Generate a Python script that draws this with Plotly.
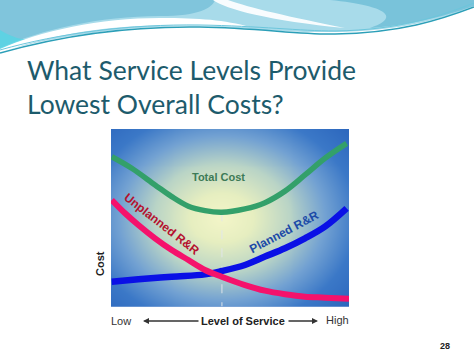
import numpy as np
import plotly.graph_objects as go

W, H = 474, 355

# ---- data (0-100 scale) ----
level_total = [0.3, 8.7, 18.5, 25.5, 32.5, 39.5, 46.5, 56.3, 64.7, 73.1, 81.5, 89.9, 99.0]
cost_total = [84.4, 77.9, 68.5, 61.9, 56.5, 54.0, 53.1, 55.0, 58.5, 65.0, 74.1, 83.5, 91.9]

level_unplanned = [0.3, 5.9, 11.5, 18.5, 25.5, 32.5, 39.5, 46.5, 56.3, 64.7, 73.1, 81.5, 89.9, 100.0]
cost_unplanned = [60.0, 52.5, 45.9, 38.4, 31.8, 26.2, 20.6, 16.8, 12.1, 8.9, 6.9, 5.5, 5.0, 4.3]

level_planned = [0.3, 11.5, 25.5, 39.5, 46.6, 56.3, 64.7, 73.1, 81.5, 89.9, 99.0]
cost_planned = [14.0, 15.3, 16.8, 18.1, 20.0, 23.4, 28.1, 32.8, 38.4, 45.0, 55.3]

optimum_level = 46.6
optimum_cost = 53.1

title_lines = ["What Service Levels Provide", "Lowest Overall Costs?"]
series_labels = ["Total Cost", "Unplanned R&R", "Planned R&R"]


def P(x, y):
    return f"{x / W:.4f},{1 - y / H:.4f}"


fig = go.Figure()

# background glow (decorative)
gx = np.linspace(0, 100, 61)
gy = np.linspace(0, 100, 61)
GX, GY = np.meshgrid(gx, gy)
R = np.sqrt(((GX - 46.5) / 58) ** 2 + ((GY - 50) / 62) ** 2)
fig.add_trace(go.Heatmap(
    x=gx, y=gy, z=R, zmin=0, zmax=1.5, zsmooth="best", showscale=False,
    hoverinfo="skip",
    colorscale=[[0, "#f3f5c8"], [0.15, "#e6eec0"], [0.33, "#b9d4c6"],
                [0.5, "#72a1d2"], [0.65, "#3b78c7"], [0.8, "#2d68be"], [1, "#2458ac"]],
))

fig.add_trace(go.Scatter(x=[optimum_level, optimum_level], y=[optimum_cost, 0], mode="lines",
                         line=dict(color="rgba(225,230,235,0.8)", width=1.2, dash="dash"),
                         hoverinfo="skip", showlegend=False))
fig.add_trace(go.Scatter(x=level_total, y=cost_total, mode="lines", line_shape="spline",
                         line=dict(color="#33a06a", width=5.5), showlegend=False))
fig.add_trace(go.Scatter(x=level_planned, y=cost_planned, mode="lines", line_shape="spline",
                         line=dict(color="#0a10e6", width=6.5), showlegend=False))
fig.add_trace(go.Scatter(x=level_unplanned, y=cost_unplanned, mode="lines", line_shape="spline",
                         line=dict(color="#f5126c", width=6), showlegend=False))

x0, x1 = 111, 349
y0, y1 = 129, 306.5
fig.update_layout(
    width=W, height=H, margin=dict(l=0, r=0, t=0, b=0),
    paper_bgcolor="white", plot_bgcolor="#2d67bd", showlegend=False,
    xaxis=dict(domain=[x0 / W, x1 / W], range=[0, 100], visible=False, fixedrange=True),
    yaxis=dict(domain=[1 - y1 / H, 1 - y0 / H], range=[0, 100], visible=False, fixedrange=True),
)

shapes = []
# header decoration: light base down to the teal line
shapes.append(dict(type="path", xref="paper", yref="paper", line=dict(width=0),
                   fillcolor="#a8dbea",
                   path=f"M {P(0,0)} L {P(474,0)} L {P(474,6)} C {P(440,20)} {P(400,31)} {P(334,32)} "
                        f"C {P(280,33)} {P(240,27)} {P(200,26)} C {P(140,25)} {P(60,34)} {P(0,52)} Z"))
# upper-left darker wave
shapes.append(dict(type="path", xref="paper", yref="paper", line=dict(width=0),
                   fillcolor="#80c5dc",
                   path=f"M {P(0,0)} L {P(215,0)} C {P(212,8)} {P(200,16)} {P(160,16)} "
                        f"C {P(100,16)} {P(40,30)} {P(0,48)} Z"))
shapes.append(dict(type="path", xref="paper", yref="paper", line=dict(width=0),
                   fillcolor="rgba(80,215,230,0.7)",
                   path=f"M {P(0,30)} C {P(10,36)} {P(20,40)} {P(28,39)} C {P(18,42)} {P(8,46)} {P(0,50)} Z"))
# white crescent below the upper-left wave
shapes.append(dict(type="path", xref="paper", yref="paper", line=dict(width=0),
                   fillcolor="white",
                   path=f"M {P(0,49)} C {P(40,31)} {P(100,18)} {P(160,18)} C {P(200,18)} {P(225,20)} {P(250,27)} "
                        f"C {P(220,26)} {P(180,25)} {P(140,26)} C {P(90,28)} {P(40,38)} {P(0,53)} Z"))
# white streak from the top
shapes.append(dict(type="path", xref="paper", yref="paper", line=dict(width=0),
                   fillcolor="rgba(255,255,255,0.92)",
                   path=f"M {P(213,0)} C {P(225,9)} {P(270,21)} {P(345,28)} "
                        f"C {P(290,17)} {P(250,8)} {P(228,0)} Z"))
# darker top-right wave
shapes.append(dict(type="path", xref="paper", yref="paper", line=dict(width=0),
                   fillcolor="#79c3da",
                   path=f"M {P(330,0)} L {P(474,0)} L {P(474,6)} C {P(450,14)} {P(420,24)} {P(370,28)} "
                        f"C {P(400,18)} {P(390,6)} {P(330,0)} Z"))
shapes.append(dict(type="path", xref="paper", yref="paper", line=dict(color="#2c9fb8", width=1.5),
                   path=f"M {P(0,53)} C {P(60,36)} {P(130,26)} {P(200,27)} C {P(260,28)} {P(300,35)} {P(335,34)} "
                        f"C {P(400,33)} {P(440,20)} {P(474,7)}"))
shapes.append(dict(type="path", xref="paper", yref="paper", line=dict(color="#6cc6dc", width=1),
                   path=f"M {P(0,50)} C {P(60,33)} {P(130,24)} {P(200,25)} C {P(260,26)} {P(300,31)} {P(335,31)} "
                        f"C {P(400,30)} {P(440,16)} {P(474,3)}"))
fig.update_layout(shapes=shapes)

ann = []
tfont = dict(family="Lato", size=26.5, color="#1d5b6c")
ann.append(dict(x=25 / W, y=1 - 70 / H, xref="paper", yref="paper", xanchor="left", yanchor="middle",
                text=title_lines[0], showarrow=False, font=tfont))
ann.append(dict(x=25 / W, y=1 - 104 / H, xref="paper", yref="paper", xanchor="left", yanchor="middle",
                text=title_lines[1], showarrow=False, font=tfont))

lab = dict(family="Liberation Sans", size=12)
ann.append(dict(x=45, y=73, xref="x", yref="y", text=f"<b>{series_labels[0]}</b>", showarrow=False,
                xanchor="center", yanchor="middle", font=dict(lab, size=11, color="#3d7a57")))
ann.append(dict(x=21.3, y=46.5, xref="x", yref="y", text=f"<b>{series_labels[1]}</b>", showarrow=False,
                xanchor="center", yanchor="middle", textangle=38, font=dict(lab, color="#b5102e")))
ann.append(dict(x=72.7, y=42, xref="x", yref="y", text=f"<b>{series_labels[2]}</b>", showarrow=False,
                xanchor="center", yanchor="middle", textangle=-28, font=dict(lab, color="#1b4aa8")))

# axes with arrowheads
ann.append(dict(x=-0.2, y=102.5, xref="x", yref="y", ax=-0.2, ay=-1, axref="x", ayref="y", text="",
                showarrow=True, arrowhead=2, arrowsize=1, arrowwidth=2, arrowcolor="#3a3a3a"))
ann.append(dict(x=102, y=-0.5, xref="x", yref="y", ax=-0.2, ay=-0.5, axref="x", ayref="y", text="",
                showarrow=True, arrowhead=2, arrowsize=1, arrowwidth=2, arrowcolor="#3a3a3a"))

small = dict(family="Liberation Sans", size=11)
ann.append(dict(x=100 / W, y=1 - 264 / H, xref="paper", yref="paper", text="<b>Cost</b>", textangle=-90,
                xanchor="center", yanchor="middle", showarrow=False, font=dict(small, color="#222")))
ann.append(dict(x=121 / W, y=1 - 321 / H, xref="paper", yref="paper", text="Low",
                xanchor="center", yanchor="middle", showarrow=False, font=dict(small, color="#333")))
ann.append(dict(x=243 / W, y=1 - 321 / H, xref="paper", yref="paper", text="<b>Level of Service</b>",
                xanchor="center", yanchor="middle", showarrow=False, font=dict(small, color="#222")))
ann.append(dict(x=337 / W, y=1 - 320 / H, xref="paper", yref="paper", text="High",
                xanchor="center", yanchor="middle", showarrow=False, font=dict(small, color="#333")))
ann.append(dict(x=143 / W, y=1 - 321 / H, xref="paper", yref="paper", ax=57, ay=0,
                text="", showarrow=True, arrowhead=2, arrowsize=0.8,
                arrowwidth=1.5, arrowcolor="#333"))
ann.append(dict(x=318 / W, y=1 - 321 / H, xref="paper", yref="paper", ax=-31, ay=0,
                text="", showarrow=True, arrowhead=2, arrowsize=0.8,
                arrowwidth=1.5, arrowcolor="#333"))
ann.append(dict(x=445 / W, y=1 - 346 / H, xref="paper", yref="paper", text="<b>28</b>",
                xanchor="center", yanchor="middle", showarrow=False,
                font=dict(family="Liberation Sans", size=9, color="#222")))
fig.update_layout(annotations=ann)

fig.write_html("out.html", config={"displayModeBar": False})
